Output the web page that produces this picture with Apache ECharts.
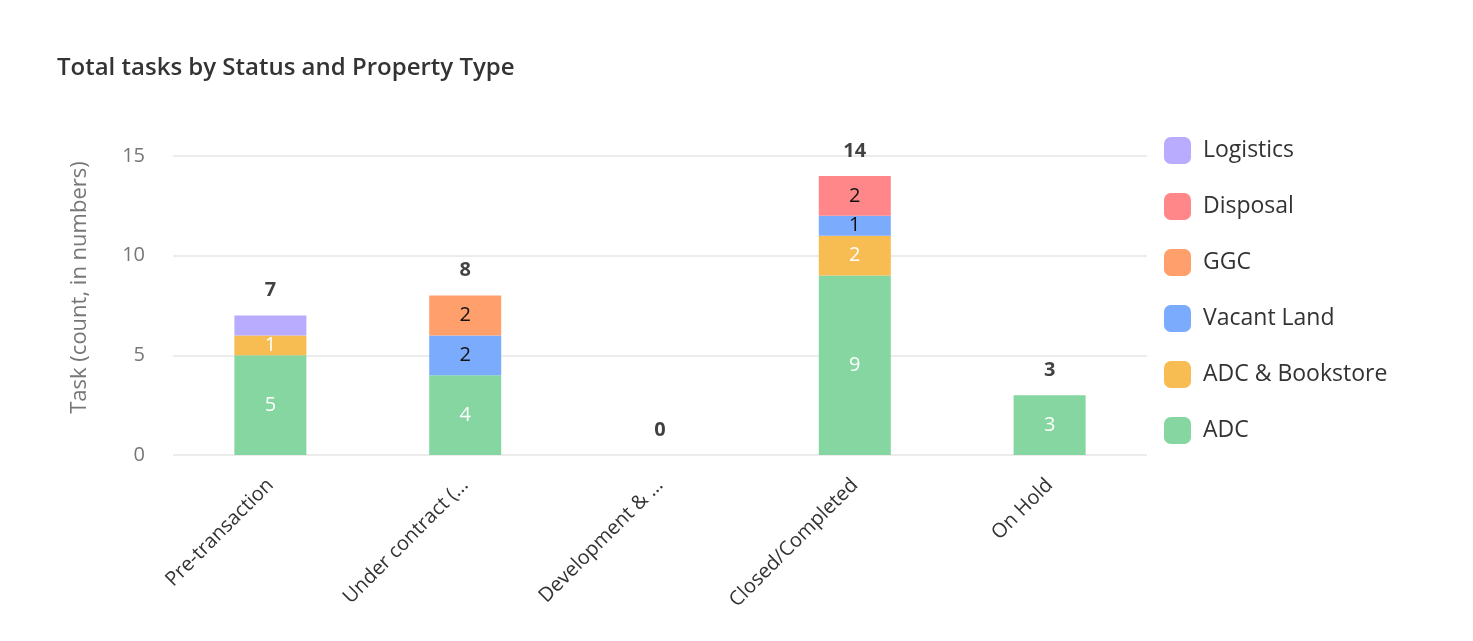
<!DOCTYPE html>
<html><head><meta charset="utf-8">
<script src="https://cdn.jsdelivr.net/npm/echarts@6/dist/echarts.min.js"></script>
<style>html,body{margin:0;padding:0;background:#fff}#c{width:1473px;height:641px}</style>
</head><body><div id="c"></div>
<script>
const categories = ['Pre-transaction', 'Under contract (...', 'Development & ...', 'Closed/Completed', 'On Hold'];
const seriesNames = ['ADC', 'ADC & Bookstore', 'Vacant Land', 'GGC', 'Disposal', 'Logistics'];
const adc = [5, 4, 0, 9, 3];
const adcBookstore = [1, 0, 0, 2, 0];
const vacantLand = [0, 2, 0, 1, 0];
const ggc = [0, 2, 0, 0, 0];
const disposal = [0, 0, 0, 2, 0];
const logistics = [1, 0, 0, 0, 0];
const yTicks = [0, 5, 10, 15];

const values = [adc, adcBookstore, vacantLand, ggc, disposal, logistics];
const colors = ['#85D6A0', '#F7BC52', '#7AABFC', '#FFA06C', '#FF8789', '#B9ABFD'];
const labelColors = ['#fff', '#fff', '#111', '#111', '#111', '#111'];
const showLabel = [true, true, true, true, true, false];
const totals = categories.map((_, i) => values.reduce((s, arr) => s + arr[i], 0));
const font = '"Open Sans", "Noto Sans", sans-serif';

const series = values.map((arr, k) => ({
  name: seriesNames[k],
  type: 'bar',
  stack: 'total',
  barWidth: 72,
  itemStyle: { color: colors[k] },
  label: { show: showLabel[k], position: 'inside', color: labelColors[k], fontSize: 20, fontFamily: font },
  data: arr.map(v => v === 0 ? null : v)
}));
series.push({
  name: 'Total',
  type: 'scatter',
  symbolSize: 0,
  silent: true,
  label: { show: true, position: 'top', distance: 15, color: '#111', fontWeight: 'bold', fontSize: 20, fontFamily: font },
  data: totals
});

const chart = echarts.init(document.getElementById('c'));
chart.setOption({
  animation: false,
  textStyle: { fontFamily: font },
  title: {
    text: 'Total tasks by Status and Property Type',
    left: 52, top: 51,
    textStyle: { fontSize: 24, fontWeight: 600, color: '#333', fontFamily: font }
  },
  legend: {
    data: seriesNames.slice().reverse(),
    orient: 'vertical',
    left: 1159, top: 132,
    itemWidth: 27, itemHeight: 27, itemGap: 29,
    icon: 'roundRect',
    textStyle: { fontSize: 23, color: '#333', fontFamily: font, padding: [0, 0, 0, 7] }
  },
  grid: { left: 173, right: 326, top: 156, bottom: 186, containLabel: false },
  xAxis: {
    type: 'category',
    data: categories,
    axisLine: { show: false },
    axisTick: { show: false },
    axisLabel: { rotate: 45, fontSize: 20, color: '#333', margin: 27, interval: 0, fontFamily: font }
  },
  yAxis: {
    type: 'value',
    min: yTicks[0], max: yTicks[yTicks.length - 1], interval: 5,
    name: 'Task (count, in numbers)',
    nameLocation: 'middle',
    nameGap: 82,
    nameTextStyle: { fontSize: 22, color: '#777', fontFamily: font, padding: [0, 0, 0, 36] },
    axisLabel: { fontSize: 20, color: '#777', margin: 28, fontFamily: font },
    splitLine: { lineStyle: { color: '#e6e6e6', width: 1.5 } }
  },
  series: series
});
</script></body></html>
